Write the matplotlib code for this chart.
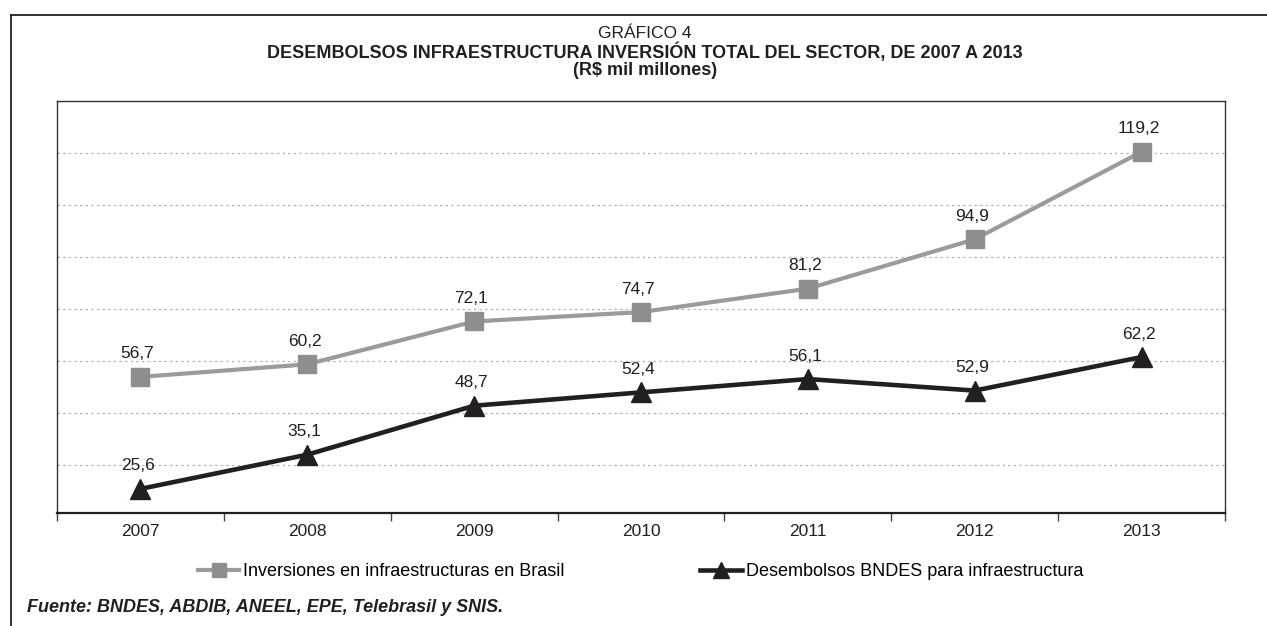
import numpy as np
import matplotlib
matplotlib.use("Agg")
import matplotlib.pyplot as plt
from matplotlib.lines import Line2D

plt.rcParams['font.family'] = ['Liberation Sans', 'DejaVu Sans']

years = ["2007", "2008", "2009", "2010", "2011", "2012", "2013"]
inversiones = [56.7, 60.2, 72.1, 74.7, 81.2, 94.9, 119.2]
desembolsos = [25.6, 35.1, 48.7, 52.4, 56.1, 52.9, 62.2]

gray_line = "#9b9b9d"
gray_mark = "#8e8e91"
black = "#231f20"

fig = plt.figure(figsize=(12.67, 6.26), dpi=100)
ax = fig.add_axes([0.045, 0.1805, 0.9218, 0.6586])

x = np.arange(len(years))

ax.plot(x, inversiones, color=gray_line, lw=3.0, marker="s", ms=13,
        mfc=gray_mark, mec=gray_mark, zorder=3)
ax.plot(x, desembolsos, color=black, lw=3.3, marker="^", ms=14,
        mfc=black, mec=black, zorder=4)

def fmt(v):
    return f"{v:.1f}".replace(".", ",")

for xi, v in zip(x, inversiones):
    ax.annotate(fmt(v), (xi, v), xytext=(-2, 16.5), textcoords="offset points",
                ha="center", va="center", fontsize=12.5, color=black)
for xi, v in zip(x, desembolsos):
    ax.annotate(fmt(v), (xi, v), xytext=(-2, 16.5), textcoords="offset points",
                ha="center", va="center", fontsize=12.5, color=black)

# axis range and hidden horizontal grid levels
ax.set_ylim(18.9, 133.4)
ax.set_yticks(np.linspace(32.2, 118.9, 7))
ax.tick_params(axis="y", left=False, labelleft=False)
ax.grid(axis="y", color="#b5b5b5", lw=0.9, linestyle=(0, (2, 2.5)))

ax.set_xlim(-0.5, len(years) - 0.5)
ax.set_xticks(x)
ax.set_xticklabels(years, fontsize=12.5, color=black)
ax.set_xticks(np.arange(-0.5, len(years), 1.0), minor=True)
ax.tick_params(axis="x", which="major", length=0, pad=8)
ax.tick_params(axis="x", which="minor", length=6, width=1, color="#444444")

for side in ["left", "top", "right"]:
    ax.spines[side].set_linewidth(1.0)
    ax.spines[side].set_color("#333333")
ax.spines["bottom"].set_linewidth(1.6)
ax.spines["bottom"].set_color(black)

fig.text(0.509, 0.947, "GRÁFICO 4", ha="center", va="center",
         fontsize=12.5, color=black)
fig.text(0.509, 0.917,
         "DESEMBOLSOS INFRAESTRUCTURA INVERSIÓN TOTAL DEL SECTOR, DE 2007 A 2013",
         ha="center", va="center", fontsize=13, fontweight="bold", color=black)
fig.text(0.509, 0.888, "(R$ mil millones)", ha="center", va="center",
         fontsize=13, fontweight="bold", color=black)

handles = [
    Line2D([], [], color=gray_line, lw=3.0, marker="s", ms=10,
           mfc=gray_mark, mec=gray_mark),
    Line2D([], [], color=black, lw=3.3, marker="^", ms=11,
           mfc=black, mec=black),
]
fig.legend(handles,
           ["Inversiones en infraestructuras en Brasil",
            "Desembolsos BNDES para infraestructura"],
           loc="center", bbox_to_anchor=(0.5055, 0.0863), ncol=2, frameon=False,
           fontsize=13, handlelength=2.3, handletextpad=0.22,
           columnspacing=7.5)

fig.text(0.0213, 0.0288, "Fuente: BNDES, ABDIB, ANEEL, EPE, Telebrasil y SNIS.",
         ha="left", va="center", fontsize=13, fontweight="bold",
         fontstyle="italic", color=black)

# outer frame, open on the right and bottom
x0 = 11 / 1267
y0 = 1 - 15 / 626
fig.add_artist(Line2D([x0, x0], [-0.01, y0], transform=fig.transFigure,
                      color=black, lw=1.3))
fig.add_artist(Line2D([x0, 1.01], [y0, y0], transform=fig.transFigure,
                      color=black, lw=1.3))

fig.savefig("out.png", dpi=100)
